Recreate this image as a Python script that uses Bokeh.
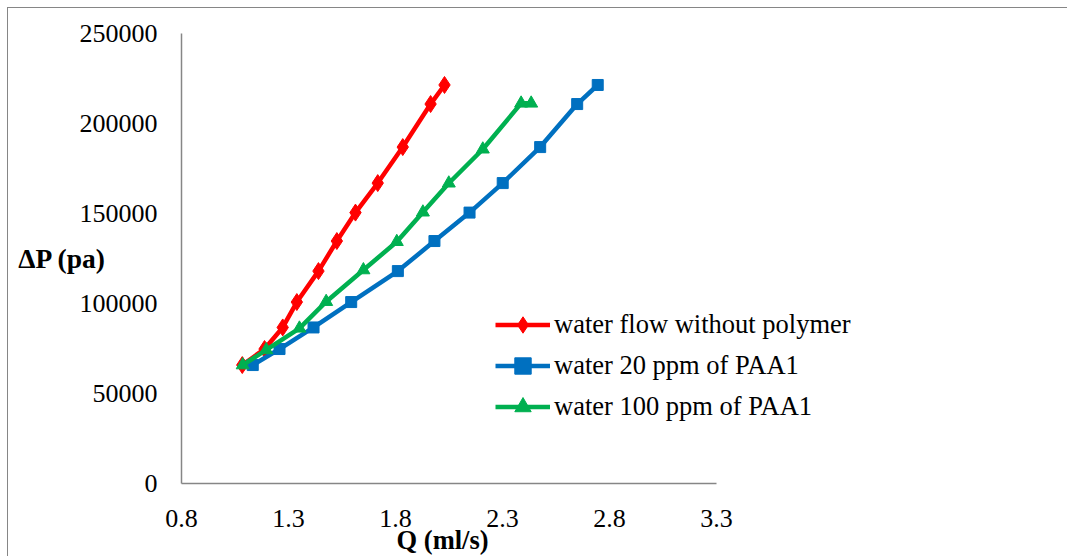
from bokeh.plotting import figure
from bokeh.models import (FixedTicker, Legend, LegendItem, ColumnDataSource,
                          LinearAxis, CustomJSTickFormatter)
from bokeh.embed import file_html
from bokeh.resources import INLINE

# Data
q_water = [1.084, 1.188, 1.273, 1.339, 1.440, 1.526, 1.613, 1.717, 1.834, 1.964, 2.029]
dp_water = [65800, 74700, 86700, 100800, 118000, 134700, 150500, 166900, 186900, 210800, 221400]

q_20ppm = [1.133, 1.258, 1.417, 1.593, 1.811, 1.982, 2.146, 2.301, 2.476, 2.649, 2.745]
dp_20ppm = [65800, 74700, 86700, 100800, 118000, 134700, 150500, 166900, 186900, 210800, 221400]

q_100ppm = [1.086, 1.196, 1.351, 1.476, 1.650, 1.806, 1.928, 2.049, 2.208, 2.387, 2.434]
dp_100ppm = [65800, 74200, 86200, 101000, 118600, 134300, 150700, 166800, 185700, 211200, 211200]

x_ticks = [0.8, 1.3, 1.8, 2.3, 2.8, 3.3]
y_ticks = [0, 50000, 100000, 150000, 200000, 250000]

series_names = ["water flow without polymer", "water 20 ppm of PAA1", "water 100 ppm of PAA1"]
series_colors = ["#FF0000", "#0070C0", "#00B050"]
x_title = "Q (ml/s)"
y_title = "ΔP (pa)"

FONT = "Liberation Serif"
AXIS_COLOR = "#868686"

# frame: 856 px wide at 214 px/unit -> data range 0.8..4.8 (axis drawn 0.8..3.3 only)
p = figure(width=1060, height=549, x_range=(0.8, 4.8), y_range=(0, 250000),
           output_backend="svg", toolbar_location=None,
           min_border_left=173, min_border_right=31, min_border_top=25, min_border_bottom=74)
p.styles = {"margin": "7px 0 0 7px",
            "border-top": "1px solid #868686", "border-left": "1px solid #868686"}

p.outline_line_color = None
p.xgrid.visible = False
p.ygrid.visible = False
p.background_fill_color = "white"
p.border_fill_color = "white"

for ax in (p.xaxis[0], p.yaxis[0]):
    ax.axis_line_color = AXIS_COLOR
    ax.axis_line_width = 1.5
    ax.major_tick_line_color = None
    ax.minor_tick_line_color = None
    ax.major_label_text_font = FONT
    ax.major_label_text_font_size = "26px"
    ax.major_label_text_color = "black"

p.xaxis.ticker = FixedTicker(ticks=x_ticks)
p.yaxis.ticker = FixedTicker(ticks=y_ticks)
p.xaxis.bounds = (x_ticks[0], x_ticks[-1])
p.xaxis.formatter = CustomJSTickFormatter(code="return tick.toFixed(1)")
p.yaxis.formatter = CustomJSTickFormatter(code="return tick.toFixed(0)")
p.xaxis.major_label_standoff = 20
p.yaxis.major_label_standoff = 18

# x axis title (centered under the drawn part of the axis)
ax_q = LinearAxis(ticker=FixedTicker(ticks=[2.02]),
                  formatter=CustomJSTickFormatter(code="return '" + x_title + "'"),
                  axis_line_color=None, major_tick_line_color=None, minor_tick_line_color=None,
                  major_label_text_font=FONT, major_label_text_font_size="26.5px",
                  major_label_text_font_style="bold", major_label_text_color="black",
                  major_label_standoff=-11)
p.add_layout(ax_q, "below")

# y axis title (horizontal, left of the axis)
ax_dp = LinearAxis(ticker=FixedTicker(ticks=[124800]),
                   formatter=CustomJSTickFormatter(code="return '" + y_title + "'"),
                   axis_line_color=None, major_tick_line_color=None, minor_tick_line_color=None,
                   major_label_text_font=FONT, major_label_text_font_size="27.5px",
                   major_label_text_font_style="bold", major_label_text_color="black",
                   major_label_standoff=-36)
p.add_layout(ax_dp, "left")

items = []
data = [(q_water, dp_water), (q_20ppm, dp_20ppm), (q_100ppm, dp_100ppm)]
for i, ((xs, ys), name, color) in enumerate(zip(data, series_names, series_colors)):
    src = ColumnDataSource(dict(x=xs, y=ys))
    ln = p.line("x", "y", source=src, line_color=color, line_width=4.5)
    if i == 0:
        mk = p.scatter("x", "y", source=src, marker="diamond", size=17, fill_color=color, line_color=color)
    elif i == 1:
        mk = p.scatter("x", "y", source=src, marker="square", size=11, fill_color=color, line_color=color)
    else:
        mk = p.scatter("x", "y", source=src, marker="triangle", size=13, fill_color=color, line_color=color)
    items.append(LegendItem(label=name, renderers=[ln, mk]))

legend = Legend(items=items, location=(314, 56), orientation="vertical",
                label_text_font=FONT, label_text_font_size="26.5px", label_text_color="black",
                glyph_width=55, glyph_height=41, label_height=41, spacing=0,
                padding=0, margin=0, label_standoff=4,
                border_line_color=None, background_fill_alpha=0)
p.add_layout(legend, "center")

open("out.html", "w").write(file_html(p, INLINE))
